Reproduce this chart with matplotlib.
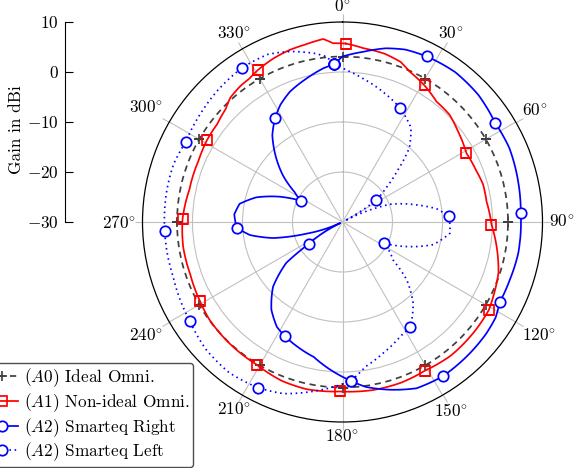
import matplotlib.pyplot as plt
import numpy as np

plt.rcParams['font.family'] = 'serif'
plt.rcParams['font.serif'] = ['cmr10']
plt.rcParams['mathtext.fontset'] = 'cm'
plt.rcParams['axes.formatter.use_mathtext'] = True
plt.rcParams['font.size'] = 12.4

# angles in degrees, clockwise from the top; gains in dBi
angle_ticks = [0, 30, 60, 90, 120, 150, 180, 210, 240, 270, 300, 330]

ideal_ang = [0, 30, 60, 90, 120, 150, 180, 210, 240, 270, 300, 330, 360]
ideal_gain = [3.1, 3.1, 3.1, 3.1, 3.1, 3.1, 3.1, 3.1, 3.1, 3.1, 3.1, 3.1, 3.1]

red_ang = [1, 7, 14, 20, 24, 31, 38, 45, 52, 61, 69, 75, 82, 91, 99, 108, 116,
           121, 130, 141, 151, 160, 170, 176, 181, 192, 201, 211, 221, 228, 234,
           241, 251, 261, 271, 282, 293, 301, 308, 314, 318, 323, 327, 331, 337,
           343, 348, 354, 357, 361]
red_gain = [5.7, 5.0, 4.7, 4.05, 2.95, 1.85, 0.55, 0.3, -0.65, -1.65, -1.35, -0.9,
            -0.9, -0.2, 1.2, 2.8, 3.6, 4.15, 4.3, 4.4, 4.0, 4.2, 4.15, 4.0, 3.9,
            4.2, 4.0, 3.3, 3.2, 3.1, 3.0, 2.6, 2.2, 2.25, 2.0, 1.3, 1.3, 1.66, 1.8,
            2.5, 3.5, 4.0, 4.2, 4.8, 5.5, 6.0, 6.25, 6.8, 5.8, 5.7]
red_marks = [1, 31, 61, 91, 121, 151, 181, 211, 241, 271, 301, 331]

right_ang = [-3, 0, 7, 14, 20, 27, 37, 47, 57, 66, 77, 87, 100, 109, 117, 122,
             128, 137, 147, 156, 164, 172, 177, 192, 207, 212, 219, 227, 234, 237,
             245, 252, 257, 262, 267, 274, 280, 286, 292, 297, 302, 308, 315, 321,
             327, 332, 338, 346, 353, 357]
right_gain = [1.58, 3.1, 4.3, 5.8, 6.7, 7.15, 7.5, 7.2, 6.4, 6.5, 6.05, 5.7, 5.7,
              5.4, 5.3, 6.1, 6.4, 6.6, 6.8, 6.4, 4.9, 3.3, 1.8, -2.4, -4.45, -5.25,
              -7.4, -11.0, -16.1, -21.9, -29.5, -22.5, -15.75, -11.3, -8.8, -8.3,
              -9.1, -12.1, -16.5, -20.6, -18.7, -14.9, -11.0, -7.7, -5.24, -3.5,
              -1.9, -0.4, 1.0, 1.58]

left_ang = [-3, 1.5, 8, 17, 27, 36, 42, 47, 52, 57, 62, 69.5, 77, 82, 87, 96,
            104, 111, 117, 127, 132, 139, 147, 153, 163, 171, 177, 183, 190, 199,
            207, 217, 227, 237, 252, 267, 280, 289, 297, 307, 316, 327, 336, 343,
            351, 354.5, 357]
left_gain = [1.58, 0.4, -1.0, -2.7, -4.5, -6.7, -10.0, -15.0, -19.0, -21.9, -29.5,
             -19.9, -14.8, -11.0, -8.64, -8.4, -11.3, -16.3, -20.6, -17.3, -12.7,
             -8.45, -5.04, -4.4, -2.5, -0.7, 1.8, 3.0, 4.4, 6.3, 7.2, 7.7, 7.35, 6.4,
             5.6, 5.6, 5.7, 5.7, 5.2, 5.7, 6.25, 6.8, 6.7, 5.66, 4.1, 3.2, 1.58]
blue_marks = [-3, 27, 57, 87, 117, 147, 177, 207, 237, 267, 297, 327, 357]


def marks(ang, keep):
    return [i for i, a in enumerate(ang) if a in keep]


fig = plt.figure(figsize=(5.74, 4.68), dpi=100)
ax = fig.add_axes([142.5 / 574, 46 / 468, 400 / 574, 400 / 468], projection='polar')
ax.set_theta_zero_location('N')
ax.set_theta_direction(-1)

lw = 1.25
l0, = ax.plot(np.radians(ideal_ang), ideal_gain, color='0.25', lw=lw,
              ls=(0, (3.6, 2.7)), marker='+', ms=7.5, mew=lw, markevery=list(range(12)),
              label=r'($A0$) Ideal Omni.')
l1, = ax.plot(np.radians(red_ang), red_gain, color='red', lw=lw, marker='s',
              ms=7.5, mfc='none', mew=lw, markevery=marks(red_ang, red_marks),
              label=r'($A1$) Non-ideal Omni.')
l2, = ax.plot(np.radians(right_ang), right_gain, color='blue', lw=lw, marker='o',
              ms=7.5, mfc='white', mew=lw, markevery=marks(right_ang, blue_marks),
              label=r'($A2$) Smarteq Right')
l3, = ax.plot(np.radians(left_ang), left_gain, color='blue', lw=lw,
              ls=(0, (0.9, 2.1)), marker='o', ms=7.5, mfc='white', mew=lw,
              markevery=marks(left_ang, blue_marks), label=r'($A2$) Smarteq Left')
# draw segments as arcs/spirals in polar space instead of straight chords
for ln in (l0, l1, l2, l3):
    ln.get_path()._interpolation_steps = 40

ax.set_ylim(-30, 10)
ax.set_yticks([-20, -10, 0])
ax.set_yticklabels([])
ax.set_xticks(np.radians(angle_ticks))
ax.set_xticklabels([])
ax.grid(True, color='#c0c0c0', lw=0.8)
ax.tick_params(axis='x', top=True, bottom=False, direction='out', length=6,
               width=0.8, color='#c0c0c0')
ax.spines['polar'].set_linewidth(0.9)

# separate gain scale on the left
lax = fig.add_axes([65 / 574, 246 / 468, 0.1, 200 / 468])
lax.set_ylim(-30, 10)
lax.set_yticks([-30, -20, -10, 0, 10])
lax.set_xticks([])
for s in ['top', 'right', 'bottom']:
    lax.spines[s].set_visible(False)
lax.spines['left'].set_linewidth(0.8)
lax.patch.set_visible(False)
lax.tick_params(axis='y', direction='in', length=5.8, width=0.8, pad=4.5)
lax.set_ylabel('Gain in dBi')
lax.yaxis.set_label_coords(-0.71, 0.46)

leg = fig.legend(handles=[l0, l1, l2, l3], loc='lower left',
                 bbox_to_anchor=(-0.0286, 0.002), borderaxespad=0, borderpad=0.22,
                 handlelength=1.75, handletextpad=0.35, labelspacing=0.12,
                 fancybox=True, framealpha=1, edgecolor='0.3')
leg.get_frame().set_linewidth(1.0)

# angle labels anchored outside the circle (box edge touches a fixed radius)
fig.canvas.draw()
renderer = fig.canvas.get_renderer()
px_per_db = ax.bbox.width / 2 / 40
sep = 5.7
for a in angle_ticks:
    th = np.radians(a)
    txt = ax.text(th, 10, r'$%d^{\!\circ}$' % a, ha='center', va='center')
    bb = txt.get_window_extent(renderer)
    ux, uy = abs(np.sin(th)), abs(np.cos(th))
    half_w, half_h = bb.width / 2 + sep, bb.height / 2 + sep
    t = min(half_w / ux if ux > 1e-6 else 1e9, half_h / uy if uy > 1e-6 else 1e9)
    txt.set_position((th, 10 + (1 + t) / px_per_db))

fig.savefig('out.png', dpi=100)
